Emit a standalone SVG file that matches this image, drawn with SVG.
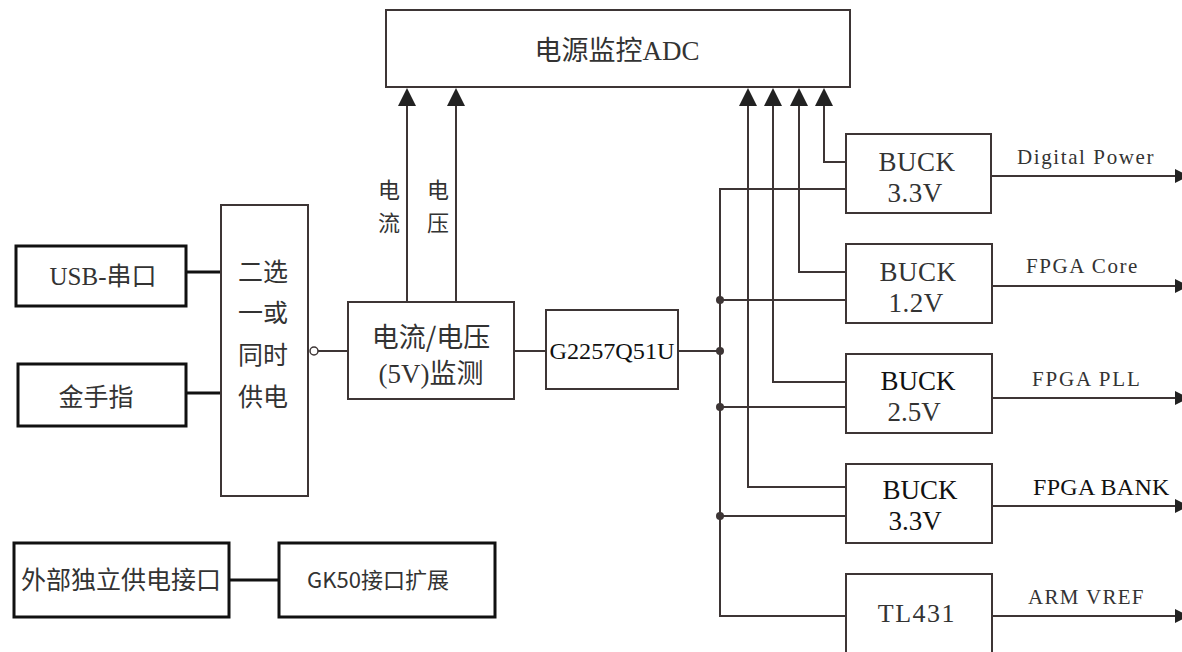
<svg xmlns="http://www.w3.org/2000/svg" width="1182" height="652" viewBox="0 0 1182 652">
<style>
.box{fill:#fff;stroke:#3d3535;stroke-width:2}
.bbox{fill:#fff;stroke:#111;stroke-width:3}
.ln{fill:none;stroke:#3d3535;stroke-width:2}
.cjk{font-family:"Noto Sans CJK SC","Noto Sans",sans-serif;fill:#333}
.ser{font-family:"Liberation Serif",serif;fill:#333}
.dot{fill:#3d3535}
</style>
<defs>
<marker id="ar" viewBox="0 0 14 14" refX="14" refY="7" markerWidth="14" markerHeight="14" markerUnits="userSpaceOnUse" orient="auto">
<path d="M0,0 L14,7 L0,14 z" fill="#222"/>
</marker>
</defs>

<g id="connectors">
<line x1="186" y1="272" x2="221" y2="272" stroke="#111" stroke-width="3"/>
<line x1="186" y1="393" x2="221" y2="393" stroke="#111" stroke-width="3"/>
<circle cx="314" cy="351" r="4" fill="#fff" stroke="#3d3535" stroke-width="1.5"/>
<line class="ln" x1="318" y1="351" x2="348" y2="351"/>
<line class="ln" x1="514" y1="351" x2="546" y2="351"/>
<line class="ln" x1="678" y1="351" x2="720" y2="351"/>
<path class="ln" d="M407,302 V106"/>
<path class="ln" d="M456,302 V106"/>
<path d="M407,88 L398,106 L416,106 z M456,88 L447,106 L465,106 z" fill="#222"/>
<path class="ln" d="M846,162 H824 V106"/>
<path class="ln" d="M846,272 H799 V106"/>
<path class="ln" d="M846,382 H773 V106"/>
<path class="ln" d="M846,487 H748 V106"/>
<path d="M824,88 L815,106 L833,106 z M799,88 L790,106 L808,106 z M773,88 L764,106 L782,106 z M748,88 L739,106 L757,106 z" fill="#222"/>
<path class="ln" d="M846,189 H720 V616 H846"/>
<line class="ln" x1="720" y1="300" x2="846" y2="300"/>
<line class="ln" x1="720" y1="407" x2="846" y2="407"/>
<line class="ln" x1="720" y1="516" x2="846" y2="516"/>
<circle class="dot" cx="720" cy="300" r="4"/>
<circle class="dot" cx="720" cy="351" r="4"/>
<circle class="dot" cx="720" cy="407" r="4"/>
<circle class="dot" cx="720" cy="516" r="4"/>
<line class="ln" x1="992" y1="176" x2="1189" y2="176" marker-end="url(#ar)"/>
<line class="ln" x1="992" y1="286" x2="1189" y2="286" marker-end="url(#ar)"/>
<line class="ln" x1="992" y1="398" x2="1189" y2="398" marker-end="url(#ar)"/>
<line class="ln" x1="992" y1="506" x2="1189" y2="506" marker-end="url(#ar)"/>
<line class="ln" x1="992" y1="616" x2="1189" y2="616" marker-end="url(#ar)"/>
<line x1="229" y1="580" x2="279" y2="580" stroke="#111" stroke-width="3"/>
<text class="cjk" font-size="22" x="389" y="198" text-anchor="middle">电</text>
<text class="cjk" font-size="22" x="389" y="231" text-anchor="middle">流</text>
<text class="cjk" font-size="22" x="438" y="198" text-anchor="middle">电</text>
<text class="cjk" font-size="22" x="438" y="231" text-anchor="middle">压</text>
<text class="ser" font-size="21" x="1017" y="164" letter-spacing="1.6">Digital Power</text>
<text class="ser" font-size="21" x="1026" y="273" letter-spacing="1.6">FPGA Core</text>
<text class="ser" font-size="21" x="1032" y="386" letter-spacing="1.8">FPGA PLL</text>
<text class="ser" font-size="24" x="1033" y="495" style="fill:#111" letter-spacing="0.3">FPGA BANK</text>
<text class="ser" font-size="21" x="1028" y="604" letter-spacing="1.3">ARM VREF</text>
</g>

<g id="adc">
<rect class="box" x="386" y="10" width="464" height="77"/>
<text x="617" y="60" text-anchor="middle" font-size="27"><tspan class="cjk">电源监控</tspan><tspan class="ser">ADC</tspan></text>
</g>

<g id="usb">
<rect class="bbox" x="16" y="246" width="170" height="60"/>
<text x="103" y="285" text-anchor="middle" font-size="25"><tspan class="ser">USB-</tspan><tspan class="cjk">串口</tspan></text>
</g>

<g id="gold">
<rect class="bbox" x="18" y="364" width="168" height="62"/>
<text class="cjk" x="96" y="406" text-anchor="middle" font-size="25">金手指</text>
</g>

<g id="mux">
<rect class="box" x="221" y="205" width="87" height="291"/>
<text class="cjk" x="263" y="281" text-anchor="middle" font-size="25">二选</text>
<text class="cjk" x="263" y="322" text-anchor="middle" font-size="25">一或</text>
<text class="cjk" x="263" y="364" text-anchor="middle" font-size="25">同时</text>
<text class="cjk" x="263" y="406" text-anchor="middle" font-size="25">供电</text>
</g>

<g id="monitor">
<rect class="box" x="348" y="302" width="166" height="97"/>
<text class="cjk" x="431" y="347" text-anchor="middle" font-size="27">电流/电压</text>
<text x="431" y="383" text-anchor="middle" font-size="27"><tspan class="ser">(5V)</tspan><tspan class="cjk">监测</tspan></text>
</g>

<g id="g2257">
<rect class="box" x="546" y="310" width="132" height="79"/>
<text class="ser" x="612" y="359" text-anchor="middle" font-size="23" style="fill:#111" textLength="125" lengthAdjust="spacingAndGlyphs">G2257Q51U</text>
</g>

<g id="buck1">
<rect class="box" x="846" y="134" width="145" height="79"/>
<text class="ser" x="917" y="171" text-anchor="middle" font-size="27" letter-spacing="0.5">BUCK</text>
<text class="ser" x="915" y="202" text-anchor="middle" font-size="27" letter-spacing="0.5">3.3V</text>
</g>
<g id="buck2">
<rect class="box" x="846" y="244" width="146" height="79"/>
<text class="ser" x="918" y="281" text-anchor="middle" font-size="27" letter-spacing="0.5">BUCK</text>
<text class="ser" x="916" y="312" text-anchor="middle" font-size="27" letter-spacing="0.5">1.2V</text>
</g>
<g id="buck3">
<rect class="box" x="846" y="354" width="146" height="79"/>
<text class="ser" x="918" y="390" text-anchor="middle" font-size="27" style="fill:#111">BUCK</text>
<text class="ser" x="914" y="421" text-anchor="middle" font-size="27">2.5V</text>
</g>
<g id="buck4">
<rect class="box" x="846" y="464" width="146" height="79"/>
<text class="ser" x="920" y="499" text-anchor="middle" font-size="27" style="fill:#111">BUCK</text>
<text class="ser" x="915" y="530" text-anchor="middle" font-size="27" style="fill:#111">3.3V</text>
</g>
<g id="tl431">
<rect class="box" x="846" y="574" width="146" height="90"/>
<text class="ser" x="917" y="622" text-anchor="middle" font-size="26" letter-spacing="1.5">TL431</text>
</g>

<g id="ext">
<rect class="bbox" x="14" y="543" width="215" height="74"/>
<text class="cjk" x="121" y="589" text-anchor="middle" font-size="25">外部独立供电接口</text>
</g>
<g id="gk50">
<rect class="bbox" x="279" y="543" width="216" height="74"/>
<text class="cjk" x="378" y="588" text-anchor="middle" font-size="22">GK50接口扩展</text>
</g>
</svg>
